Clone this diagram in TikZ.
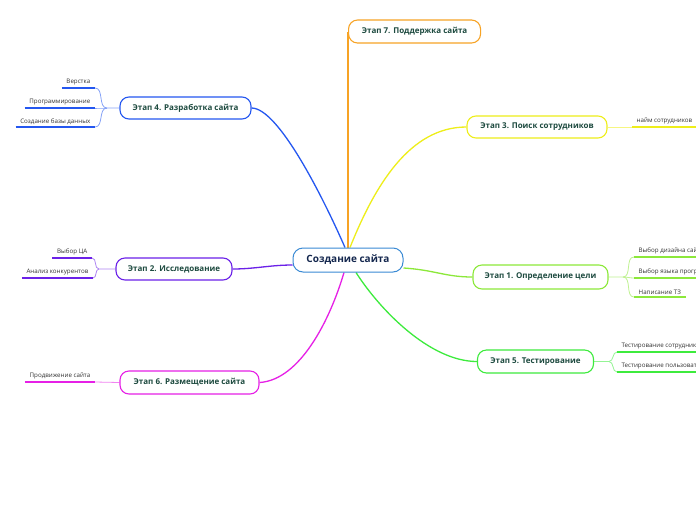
\documentclass[tikz,border=0pt]{standalone}
\usepackage{fontspec}
\setmainfont{Open Sans}
\usetikzlibrary{backgrounds}
\definecolor{corange}{HTML}{F7A325}
\definecolor{cblue}{HTML}{2457F0}
\definecolor{cyellow}{HTML}{EEEE1A}
\definecolor{cpurple}{HTML}{6B21E8}
\definecolor{clgreen}{HTML}{8CE83A}
\definecolor{cgreen}{HTML}{3DEB3D}
\definecolor{cmagenta}{HTML}{E620E6}
\definecolor{ccenter}{HTML}{3A8AD4}
\definecolor{stagetext}{HTML}{1D4A3F}
\definecolor{centertext}{HTML}{14274E}
\definecolor{leaftext}{HTML}{333333}
\begin{document}
\begin{tikzpicture}[x=1pt,y=-1pt,
  stagebox/.style={draw=#1, line width=1.1pt, fill=white, rounded corners=9pt,
    font=\fontsize{8}{9}\selectfont\bfseries, text=stagetext, inner sep=0pt},
  centerbox/.style={draw=ccenter, line width=1pt, fill=white, rounded corners=10pt,
    font=\fontsize{10}{11}\selectfont\bfseries, text=centertext, inner sep=0pt,
    minimum width=110pt, minimum height=24pt},
  leaf/.style={font=\fontsize{6.2}{7}\selectfont, text=leaftext, inner xsep=4.5pt, inner ysep=2.5pt},
  uline/.style={draw=#1, line width=1.6pt},
  branch/.style={draw=#1, line width=1.3pt},
  twig/.style={draw=#1!55, line width=0.8pt},
]
\clip (0,0) rectangle (696,520);

% center
\node[centerbox] (c) at (348,260) {Создание сайта};

% stages
\node[stagebox=corange, minimum width=132pt, minimum height=23pt, anchor=west] (n7) at (348,31.5) {Этап 7. Поддержка сайта};
\node[stagebox=cblue, minimum width=131pt, minimum height=22pt] (n4) at (185.5,108) {Этап 4. Разработка сайта};
\node[stagebox=cyellow, minimum width=140pt, minimum height=22pt] (n3) at (537,127) {Этап 3. Поиск сотрудников};
\node[stagebox=cpurple, minimum width=116pt, minimum height=22pt] (n2) at (174,269) {Этап 2. Исследование};
\node[stagebox=clgreen, minimum width=135pt, minimum height=24pt] (n1) at (540.5,277) {Этап 1. Определение цели};
\node[stagebox=cgreen, minimum width=116pt, minimum height=23pt] (n5) at (535.5,361.5) {Этап 5. Тестирование};
\node[stagebox=cmagenta, minimum width=139pt, minimum height=23pt] (n6) at (189.5,382.5) {Этап 6. Размещение сайта};

% leaves left
\node[leaf, anchor=south east] (l41) at (95,88) {Верстка};
\node[leaf, anchor=south east] (l42) at (95,108) {Программирование};
\node[leaf, anchor=south east] (l43) at (95,127) {Создание базы данных};
\node[leaf, anchor=south east] (l21) at (92,258) {Выбор ЦА};
\node[leaf, anchor=south east] (l22) at (93,278) {Анализ конкурентов};
\node[leaf, anchor=south east] (l61) at (95,382) {Продвижение сайта};
% leaves right
\node[leaf, anchor=south west] (l31) at (632,127) {найм сотрудников};
\node[leaf, anchor=south west] (l11) at (634,257) {Выбор дизайна сайта};
\node[leaf, anchor=south west] (l12) at (634,278) {Выбор языка программирования};
\node[leaf, anchor=south west] (l13) at (634,297) {Написание ТЗ};
\node[leaf, anchor=south west] (l51) at (617,352) {Тестирование сотрудниками};
\node[leaf, anchor=south west] (l52) at (617,372) {Тестирование пользователями};

\coordinate (j4) at (107,108);
\coordinate (j2) at (99,269);
\coordinate (j1) at (623,277);
\coordinate (j5) at (609,361.5);

\begin{scope}[on background layer]
  \fill[white] (0,0) rectangle (696,520);
  % main branches
  \draw[branch=corange] (c.north) -- (n7.west);
  \draw[branch=cblue] ([xshift=-3pt]c.north) .. controls (322,195) and (278,108) .. (n4.east);
  \draw[branch=cyellow] ([xshift=2pt]c.north) .. controls (375,185) and (410,127) .. (n3.west);
  \draw[branch=cpurple] ([yshift=-5pt]c.west) .. controls (270,265) and (255,269) .. (n2.east);
  \draw[branch=clgreen] ([yshift=-8pt]c.east) .. controls (435,270) and (445,277) .. (n1.west);
  \draw[branch=cgreen] ([xshift=8pt]c.south) .. controls (380,310) and (430,361.5) .. (n5.west);
  \draw[branch=cmagenta] ([xshift=-4pt]c.south) .. controls (330,320) and (300,380) .. (n6.east);

  % twigs
  \draw[twig=cblue] (n4.west) -- (j4) to[out=180,in=0] (l41.south east);
  \draw[twig=cblue] (j4) to[out=180,in=0] (l42.south east);
  \draw[twig=cblue] (j4) to[out=180,in=0] (l43.south east);
  \draw[twig=cpurple] (n2.west) -- (j2) to[out=180,in=0] (l21.south east);
  \draw[twig=cpurple] (j2) to[out=180,in=0] (l22.south east);
  \draw[twig=cmagenta] (n6.west) -- (l61.south east);
  \draw[twig=cyellow] (n3.east) -- (l31.south west);
  \draw[twig=clgreen] (n1.east) -- (j1) to[out=0,in=180] (l11.south west);
  \draw[twig=clgreen] (j1) to[out=0,in=180] (l12.south west);
  \draw[twig=clgreen] (j1) to[out=0,in=180] (l13.south west);
  \draw[twig=cgreen] (n5.east) -- (j5) to[out=0,in=180] (l51.south west);
  \draw[twig=cgreen] (j5) to[out=0,in=180] (l52.south west);
\end{scope}

% underlines
\foreach \l/\col in {l41/cblue,l42/cblue,l43/cblue,l21/cpurple,l22/cpurple,l61/cmagenta,l31/cyellow,l11/clgreen,l12/clgreen,l13/clgreen,l51/cgreen,l52/cgreen}
  \draw[uline=\col] (\l.south west) -- (\l.south east);
\end{tikzpicture}
\end{document}
